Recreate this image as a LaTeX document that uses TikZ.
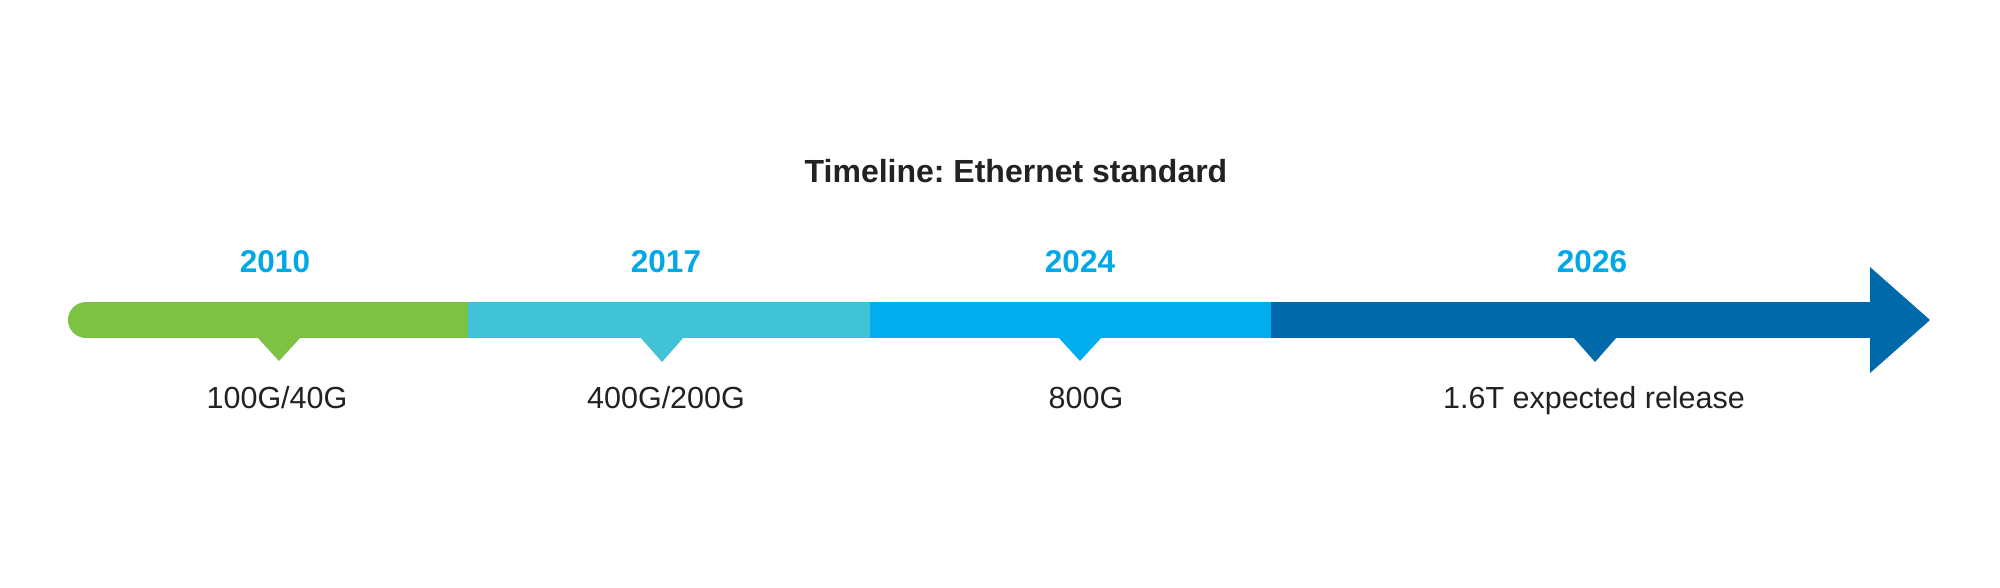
\documentclass[tikz,border=0pt]{standalone}
\usepackage{fontspec}
\setmainfont{Liberation Sans}
\frenchspacing
\begin{document}
\begin{tikzpicture}[x=1pt,y=-1pt,
  yearlbl/.style={anchor=base, text=yearblue, font=\bfseries\fontsize{31.5}{36}\selectfont, inner sep=0pt},
  speclbl/.style={anchor=base, text=txtdark, font=\fontsize{30.5}{36}\selectfont, inner sep=0pt},
  titlelbl/.style={anchor=base, text=txtdark, font=\bfseries\fontsize{32}{38}\selectfont, inner sep=0pt}]
\definecolor{sgreen}{HTML}{7DC243}
\definecolor{steal}{HTML}{40C3D7}
\definecolor{sblue}{HTML}{00AEEF}
\definecolor{sdark}{HTML}{0069AA}
\definecolor{yearblue}{HTML}{00A9E6}
\definecolor{txtdark}{HTML}{222222}
\useasboundingbox (0,0) rectangle (2000,587);
\fill[white] (0,0) rectangle (2000,587);
% bar segments
\fill[sgreen] (86,320) circle (18);
\fill[sgreen] (86,302) rectangle (468.5,338);
\fill[steal] (468,302) rectangle (870.5,338);
\fill[sblue] (870,302) rectangle (1271.5,338);
\fill[sdark] (1271,302) rectangle (1871,338);
\fill[sdark] (1870,267) -- (1930,320) -- (1870,373) -- cycle;
% notches
\fill[sgreen] (257,337) -- (301,337) -- (279,361) -- cycle;
\fill[steal] (640,337) -- (684,337) -- (662,362) -- cycle;
\fill[sblue] (1058,337) -- (1102,337) -- (1080,361) -- cycle;
\fill[sdark] (1573,337) -- (1617,337) -- (1595,362) -- cycle;
% texts
\node[titlelbl] (title) at (1016,182) {Timeline: Ethernet standard};
\node[yearlbl] (y2010) at (275,272) {2010};
\node[yearlbl] (y2017) at (666,272) {2017};
\node[yearlbl] (y2024) at (1080,272) {2024};
\node[yearlbl] (y2026) at (1592,272) {2026};
\node[speclbl] (s1) at (277,408) {100G/40G};
\node[speclbl] (s2) at (666,408) {400G/200G};
\node[speclbl] (s3) at (1086,408) {800G};
\node[speclbl] (s4) at (1594,408) {1.6T expected release};
\end{tikzpicture}
\end{document}
